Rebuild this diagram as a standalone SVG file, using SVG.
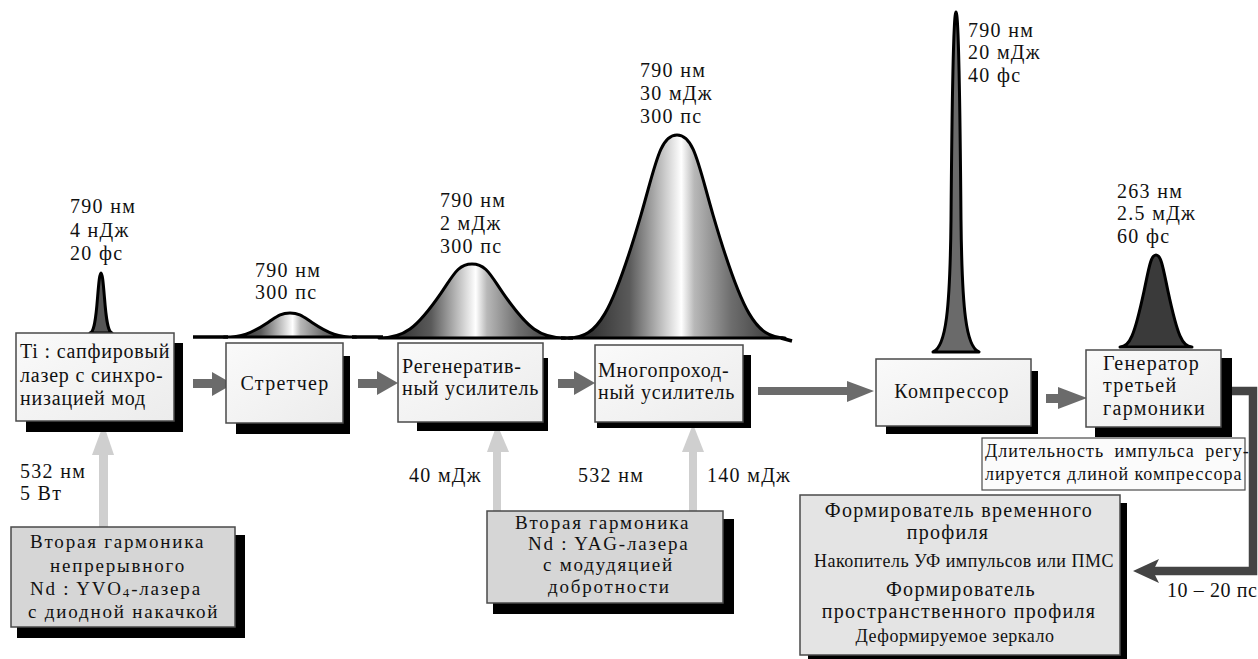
<svg xmlns="http://www.w3.org/2000/svg" width="1258" height="659" viewBox="0 0 1258 659">
<defs>
<linearGradient id="bell" x1="0" y1="0" x2="1" y2="0">
<stop offset="0" stop-color="#1e1e1e"/>
<stop offset="0.28" stop-color="#5a5a5a"/>
<stop offset="0.45" stop-color="#cfcfcf"/>
<stop offset="0.52" stop-color="#ffffff"/>
<stop offset="0.58" stop-color="#b8b8b8"/>
<stop offset="0.75" stop-color="#6e6e6e"/>
<stop offset="1" stop-color="#2e2e2e"/>
</linearGradient>
<linearGradient id="boxfill" x1="0" y1="0" x2="1" y2="1">
<stop offset="0" stop-color="#fafafa"/>
<stop offset="1" stop-color="#ececec"/>
</linearGradient>
<style>
text{font-family:"Liberation Serif","Times New Roman",serif;fill:#111;}
.t{font-size:20px;letter-spacing:1.3px;}
.b{font-size:20px;letter-spacing:0.8px;}
.g{font-size:19px;letter-spacing:1.8px;}
.s{font-size:18px;letter-spacing:0.5px;}
.s2{font-size:18px;letter-spacing:1px;}
.box{fill:url(#boxfill);stroke:#4a4a4a;stroke-width:1.5;}
.gbox{fill:#d6d6d6;stroke:#4a4a4a;stroke-width:1.5;}
.shadow{fill:#000;}
.harr{fill:#6b6b6b;}
.parr{fill:#cfcfcf;}
.pulse{stroke:#000;stroke-width:3;stroke-linejoin:round;}
.c{text-anchor:middle;}
</style>
</defs>
<rect width="1258" height="659" fill="#fff"/>

<g id="pulses">
<path class="pulse" fill="#555" stroke-width="2" d="M90,333 C93.5,332 95.5,324 97.5,298 C98.8,283 99.6,273 101,273 C102.4,273 103.2,283 104.5,298 C106.5,324 108.5,332 112,333 Z"/>
<path fill="none" stroke="#000" stroke-width="3.5" d="M193,337 H228 M352,337 H383 M561,338 H573 M781,338 L792,341"/>
<path class="pulse" fill="url(#bell)" d="M224,337 C241.6,337 250.4,334.1 268,322.4 C276.8,316.6 280.1,313 290,313 C299.9,313 303.2,316.6 312,322.4 C329.6,334.1 338.4,337 356,337 Z"/>
<path class="pulse" fill="url(#bell)" d="M379,338 C403.8,338 416.2,329 441,293.1 C453.4,275.1 458,264 472,264 C486,264 490.6,275.1 503,293.1 C527.8,329 540.2,338 565,338 Z"/>
<path class="pulse" fill="url(#bell)" d="M569,338 C597.8,338 612.2,313.4 641,214.8 C655.4,165.5 659.8,135 677,135 C694.2,135 698.6,165.5 713,214.8 C741.8,313.4 756.2,338 785,338 Z"/>
<path class="pulse" fill="#6a6a6a" stroke-width="2.5" d="M933,352 C946,347 950,310 951,220 C952,100 953.5,12 956,12 C958.5,12 960,100 961,220 C962,310 966,347 979,352 Z"/>
<path class="pulse" fill="#3a3a3a" stroke-width="2.5" d="M1120,347 C1129.6,347 1134.4,335.9 1144,291.2 C1148.8,268.8 1150.6,255 1156,255 C1161.4,255 1163.2,268.8 1168,291.2 C1177.6,335.9 1182.4,347 1192,347 Z"/>
</g>

<g id="pulse-labels" class="t">
<text x="70" y="213">790 нм</text>
<text x="70" y="237">4 нДж</text>
<text x="70" y="260">20 фс</text>
<text x="255" y="277">790 нм</text>
<text x="255" y="299">300 пс</text>
<text x="440" y="207">790 нм</text>
<text x="440" y="230">2 мДж</text>
<text x="440" y="253">300 пс</text>
<text x="640" y="77">790 нм</text>
<text x="640" y="100">30 мДж</text>
<text x="640" y="123">300 пс</text>
<text x="968" y="37">790 нм</text>
<text x="968" y="59">20 мДж</text>
<text x="968" y="82">40 фс</text>
<text x="1117" y="198">263 нм</text>
<text x="1117" y="220">2.5 мДж</text>
<text x="1117" y="243">60 фс</text>
</g>

<g id="connectors">
<rect class="harr" x="193" y="379" width="22" height="9"/>
<polygon class="harr" points="212,372 233,384 212,396"/>
<rect class="harr" x="358" y="379" width="22" height="9"/>
<polygon class="harr" points="377,371 398,383 377,395"/>
<rect class="harr" x="558" y="379" width="19" height="9"/>
<polygon class="harr" points="574,371 595,383 574,395"/>
<rect class="harr" x="758" y="387" width="92" height="8"/>
<polygon class="harr" points="847,381 874,391 847,402"/>
<rect class="harr" x="1046" y="394" width="15" height="9"/>
<polygon class="harr" points="1058,387 1087,398 1058,409"/>
<rect class="parr" x="99" y="453" width="9" height="74"/>
<polygon class="parr" points="92,455 103.5,424 114,455"/>
<rect class="parr" x="493" y="450" width="8" height="61"/>
<polygon class="parr" points="487,452 497,424 509,452"/>
<rect class="parr" x="689" y="450" width="8" height="61"/>
<polygon class="parr" points="682,452 693,424 704,452"/>
<path d="M1187,391 H1253 V571 H1152" fill="none" stroke="#444" stroke-width="8.5" stroke-linejoin="miter"/>
<polygon fill="#444" points="1133,571 1159,559 1153,571 1159,583"/>
</g>

<g id="labels" class="t">
<text x="20" y="478">532 нм</text>
<text x="20" y="500">5 Вт</text>
<text x="409" y="482">40 мДж</text>
<text x="578" y="482">532 нм</text>
<text x="707" y="482">140 мДж</text>
<text x="1167" y="597" letter-spacing="0.6">10 – 20 пс</text>
</g>

<g id="ti-laser">
<rect class="shadow" x="26" y="343" width="157" height="89"/>
<rect class="box" x="16" y="333" width="158" height="88"/>
<text class="b" x="20" y="358" letter-spacing="0.6">Ti : сапфировый</text>
<text class="b" x="20" y="382" letter-spacing="0.7">лазер с синхро-</text>
<text class="b" x="20" y="405" letter-spacing="0.7">низацией мод</text>
</g>

<g id="stretcher">
<rect class="shadow" x="236" y="356" width="114" height="78"/>
<rect class="box" x="226" y="343" width="117" height="80"/>
<text class="t c" x="285" y="390">Стретчер</text>
</g>

<g id="regen">
<rect class="shadow" x="417" y="358" width="131" height="73"/>
<rect class="box" x="398" y="343" width="145" height="79"/>
<text class="b" x="402" y="373">Регенератив-</text>
<text class="b" x="402" y="395">ный усилитель</text>
</g>

<g id="multipass">
<rect class="shadow" x="597" y="355" width="154" height="73"/>
<rect class="box" x="595" y="345" width="148" height="77"/>
<text class="b" x="598" y="377">Многопроход-</text>
<text class="b" x="598" y="399">ный усилитель</text>
</g>

<g id="compressor">
<rect class="shadow" x="886" y="371" width="152" height="63"/>
<rect class="box" x="876" y="359" width="155" height="67"/>
<text class="t c" x="952" y="398">Компрессор</text>
</g>

<g id="thg">
<rect class="shadow" x="1095" y="358" width="137" height="79"/>
<rect class="box" x="1086" y="350" width="135" height="77"/>
<text class="t" x="1103" y="370">Генератор</text>
<text class="t" x="1103" y="392">третьей</text>
<text class="t" x="1103" y="415">гармоники</text>
</g>

<g id="duration-note">
<rect x="982" y="438" width="263" height="52" fill="#fbfbfb" stroke="#4a4a4a" stroke-width="1.2"/>
<text class="s2" x="985" y="457" word-spacing="5">Длительность импульса регу-</text>
<text class="s2" x="985" y="480">лируется длиной компрессора</text>
</g>

<g id="shaper">
<rect class="shadow" x="808" y="503" width="319" height="160"/>
<rect x="800" y="495" width="320" height="160" fill="#e4e4e4" stroke="#4a4a4a" stroke-width="1.5"/>
<text class="t c" x="959" y="517">Формирователь временного</text>
<text class="t c" x="948" y="539">профиля</text>
<text class="s c" x="964" y="567">Накопитель УФ импульсов или ПМС</text>
<text class="t c" x="961" y="596">Формирователь</text>
<text class="t c" x="959" y="618">пространственного профиля</text>
<text class="s c" x="955" y="642">Деформируемое зеркало</text>
</g>

<g id="pump-yvo4">
<rect class="shadow" x="17" y="535" width="228" height="103"/>
<rect class="gbox" x="11" y="527" width="224" height="100"/>
<text class="g" x="30" y="548">Вторая гармоника</text>
<text class="g" x="50" y="572">непрерывного</text>
<text class="g" x="30" y="595">Nd : YVO<tspan font-size="13" dy="2">4</tspan><tspan dy="-2">-лазера</tspan></text>
<text class="g" x="28" y="618">с диодной накачкой</text>
</g>

<g id="pump-yag">
<rect class="shadow" x="493" y="519" width="241" height="95"/>
<rect class="gbox" x="487" y="511" width="236" height="92"/>
<text class="g" x="515" y="529">Вторая гармоника</text>
<text class="g" x="528" y="550">Nd : YAG-лазера</text>
<text class="g" x="543" y="571">с модудяцией</text>
<text class="g" x="548" y="593">добротности</text>
</g>
</svg>
